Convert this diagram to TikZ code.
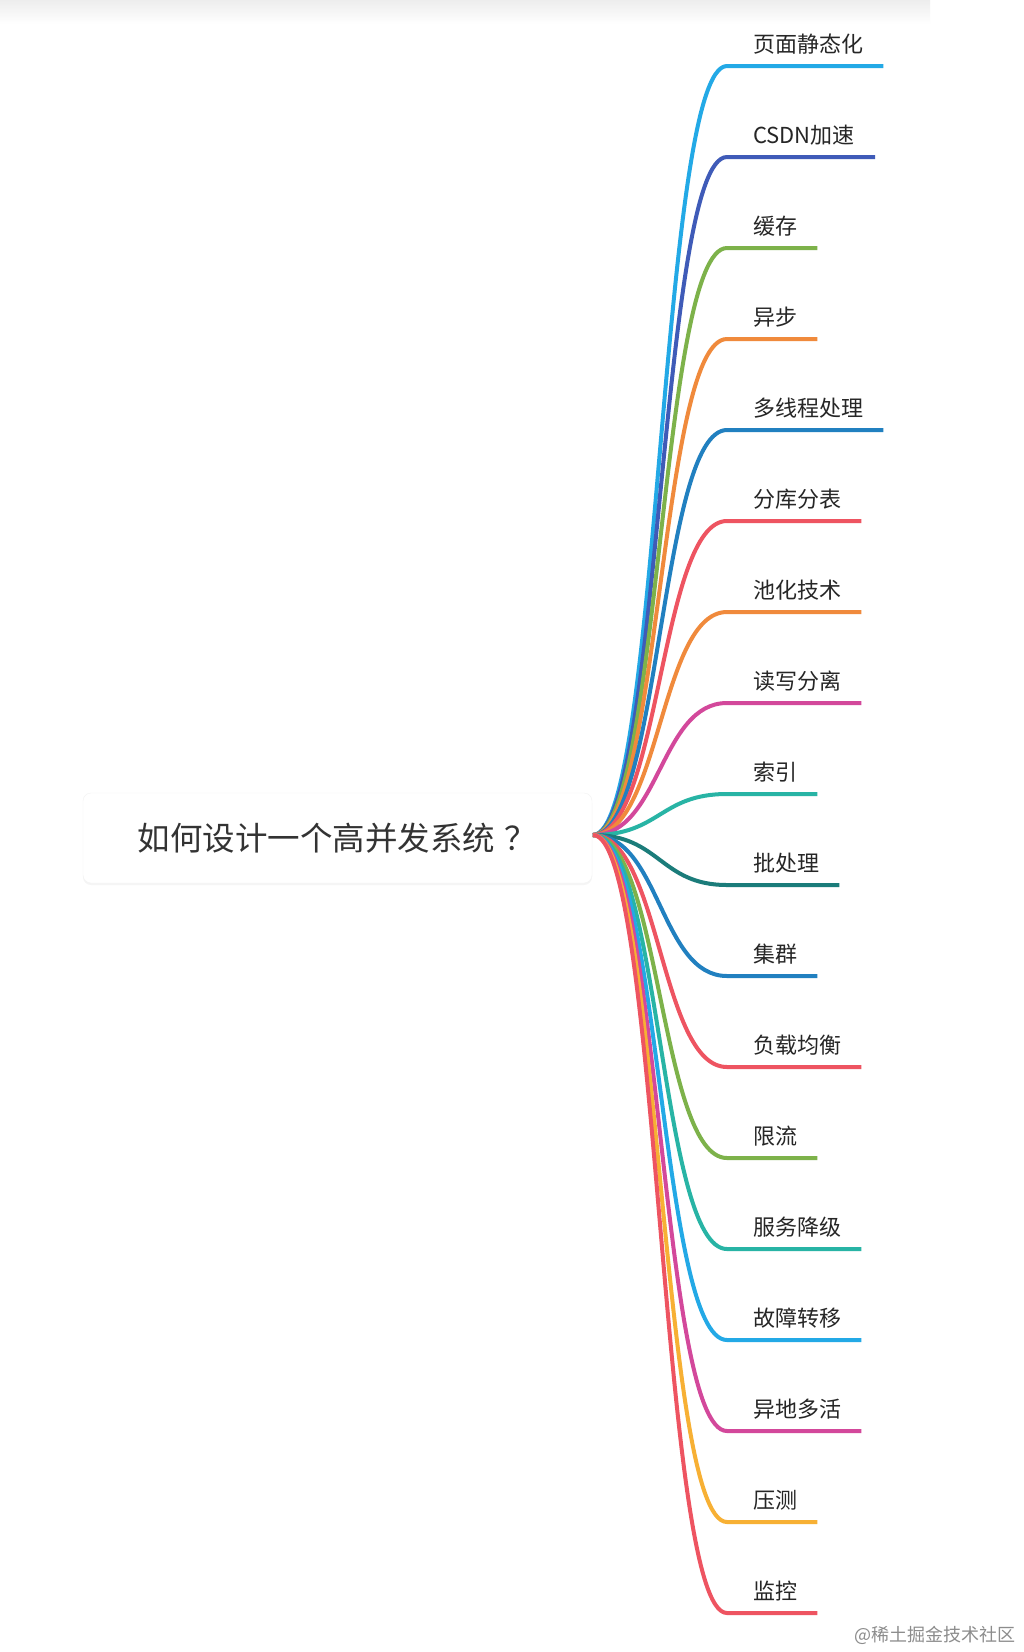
\documentclass[tikz,border=0pt]{standalone}
\usepackage{fontspec}
\newfontfamily\cjk{Noto Sans CJK SC}
\usetikzlibrary{calc,shadows}

\definecolor{skyblue}{HTML}{23A9E6}
\definecolor{indigo}{HTML}{3F5BB8}
\definecolor{leafgreen}{HTML}{7DB24A}
\definecolor{orange}{HTML}{F08A3C}
\definecolor{seablue}{HTML}{2180C0}
\definecolor{coral}{HTML}{EE5461}
\definecolor{magenta}{HTML}{D3489B}
\definecolor{teal}{HTML}{28B4A5}
\definecolor{darkteal}{HTML}{1B7C7A}
\definecolor{amber}{HTML}{F7B034}

\begin{document}
\begin{tikzpicture}[x=1pt,y=-1pt,
  leaf/.style={anchor=west, inner sep=0pt, text=black!85, font=\cjk\fontsize{22}{26}\selectfont},
  br/.style={line width=4pt}]

\useasboundingbox (0,0) rectangle (1024,1652);
\fill[white] (0,0) rectangle (1024,1652);
\shade[top color=black!7, bottom color=white] (0,0) rectangle (930,24);

\node[draw=black!5, fill=white, rounded corners=8pt, drop shadow={opacity=0.08, shadow xshift=0pt, shadow yshift=-2pt},
  minimum width=509pt, minimum height=90pt, text=black!80, font=\cjk\fontsize{32.5}{36}\selectfont] (root) at (337.5,838) {如何设计一个高并发系统\hspace{10pt}？\hspace{6pt}};
\coordinate (hub) at (593,835);

\node[leaf] (a1) at (753,44) {页面静态化};
\node[leaf] (a2) at (753,135) {CSDN加速};
\node[leaf] (a3) at (753,226) {缓存};
\node[leaf] (a4) at (753,317) {异步};
\node[leaf] (a5) at (753,408) {多线程处理};
\node[leaf] (a6) at (753,499) {分库分表};
\node[leaf] (a7) at (753,590) {池化技术};
\node[leaf] (a8) at (753,681) {读写分离};
\node[leaf] (a9) at (753,772) {索引};
\node[leaf] (a10) at (753,863) {批处理};
\node[leaf] (a11) at (753,954) {集群};
\node[leaf] (a12) at (753,1045) {负载均衡};
\node[leaf] (a13) at (753,1136) {限流};
\node[leaf] (a14) at (753,1227) {服务降级};
\node[leaf] (a15) at (753,1318) {故障转移};
\node[leaf] (a16) at (753,1409) {异地多活};
\node[leaf] (a17) at (753,1500) {压测};
\node[leaf] (a18) at (753,1591) {监控};

\draw[br, skyblue] (hub) .. controls (660,835) and (660,66) .. (727,66) -- ($(a1.east)+(20,22)$);
\draw[br, indigo] (hub) .. controls (660,835) and (660,157) .. (727,157) -- ($(a2.east)+(20,22)$);
\draw[br, leafgreen] (hub) .. controls (660,835) and (660,248) .. (727,248) -- ($(a3.east)+(20,22)$);
\draw[br, orange] (hub) .. controls (660,835) and (660,339) .. (727,339) -- ($(a4.east)+(20,22)$);
\draw[br, seablue] (hub) .. controls (660,835) and (660,430) .. (727,430) -- ($(a5.east)+(20,22)$);
\draw[br, coral] (hub) .. controls (660,835) and (660,521) .. (727,521) -- ($(a6.east)+(20,22)$);
\draw[br, orange] (hub) .. controls (660,835) and (660,612) .. (727,612) -- ($(a7.east)+(20,22)$);
\draw[br, magenta] (hub) .. controls (660,835) and (660,703) .. (727,703) -- ($(a8.east)+(20,22)$);
\draw[br, teal] (hub) .. controls (660,835) and (660,794) .. (727,794) -- ($(a9.east)+(20,22)$);
\draw[br, darkteal] (hub) .. controls (660,835) and (660,885) .. (727,885) -- ($(a10.east)+(20,22)$);
\draw[br, seablue] (hub) .. controls (660,835) and (660,976) .. (727,976) -- ($(a11.east)+(20,22)$);
\draw[br, coral] (hub) .. controls (660,835) and (660,1067) .. (727,1067) -- ($(a12.east)+(20,22)$);
\draw[br, leafgreen] (hub) .. controls (660,835) and (660,1158) .. (727,1158) -- ($(a13.east)+(20,22)$);
\draw[br, teal] (hub) .. controls (660,835) and (660,1249) .. (727,1249) -- ($(a14.east)+(20,22)$);
\draw[br, skyblue] (hub) .. controls (660,835) and (660,1340) .. (727,1340) -- ($(a15.east)+(20,22)$);
\draw[br, magenta] (hub) .. controls (660,835) and (660,1431) .. (727,1431) -- ($(a16.east)+(20,22)$);
\draw[br, amber] (hub) .. controls (660,835) and (660,1522) .. (727,1522) -- ($(a17.east)+(20,22)$);
\draw[br, coral] (hub) .. controls (660,835) and (660,1613) .. (727,1613) -- ($(a18.east)+(20,22)$);

\node[anchor=east, inner sep=0pt, text=black!45, font=\cjk\fontsize{18}{20}\selectfont] (mark) at (1016,1635) {@稀土掘金技术社区};

\end{tikzpicture}
\end{document}
